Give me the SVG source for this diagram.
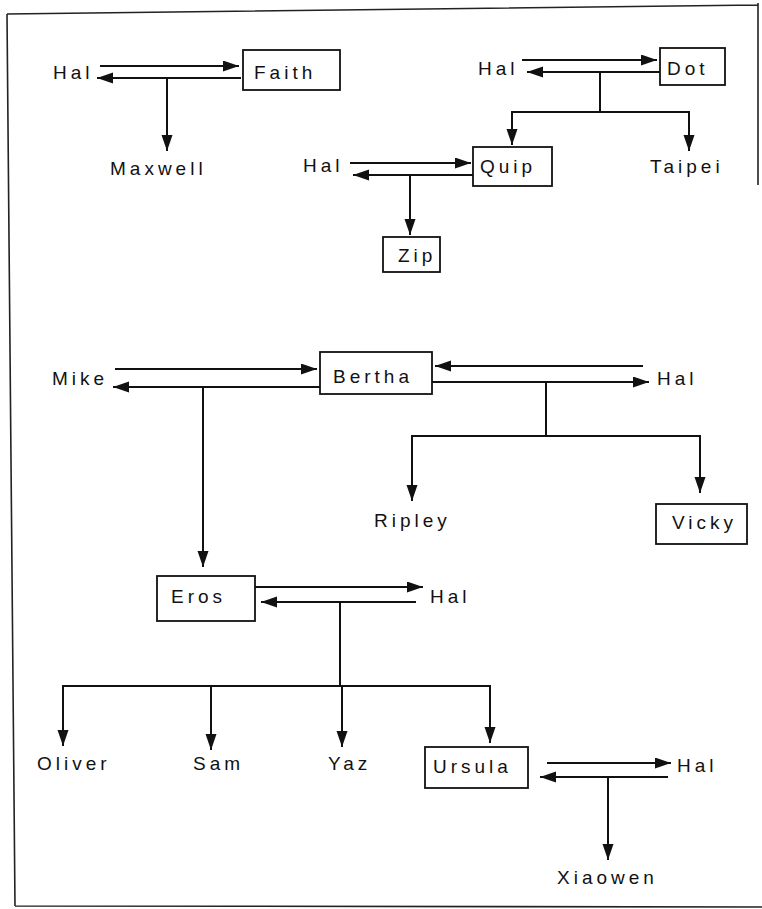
<svg xmlns="http://www.w3.org/2000/svg" width="762" height="909" viewBox="0 0 762 909">
<style>
text{font-family:"Liberation Sans",Arial,sans-serif;font-size:19px;letter-spacing:4px;fill:#111}
.box{fill:#fff;stroke:#111;stroke-width:1.8}
.ln{stroke:#111;stroke-width:2;fill:none}
.ar{stroke:#111;stroke-width:2;fill:none;marker-end:url(#ah)}
.frame{stroke:#222;stroke-width:1.6;fill:none}
</style>
<defs>
<marker id="ah" markerUnits="userSpaceOnUse" markerWidth="17" markerHeight="12" refX="16" refY="5.5" orient="auto">
<path d="M0,0 L16,5.5 L0,11 z" fill="#111"/>
</marker>
</defs>
<rect width="762" height="909" fill="#fff"/>
<g id="frame">
<path class="frame" d="M7,14 L758,5 M758,3 L758,185 M7,14 L15,906 M15,906 L762,907"/>
</g>
<g id="connectors">
<line class="ar" x1="100" y1="66" x2="239" y2="66"/>
<line class="ar" x1="241" y1="78" x2="97" y2="78"/>
<line class="ar" x1="167" y1="78" x2="167" y2="151"/>
<line class="ar" x1="522" y1="60" x2="657" y2="60"/>
<line class="ar" x1="660" y1="72" x2="527" y2="72"/>
<path class="ln" d="M600,72 V112 M512,112 H689"/>
<line class="ar" x1="512" y1="111" x2="512" y2="145"/>
<line class="ar" x1="689" y1="111" x2="689" y2="151"/>
<line class="ar" x1="350" y1="163" x2="471" y2="163"/>
<line class="ar" x1="473" y1="175" x2="353" y2="175"/>
<line class="ar" x1="410" y1="175" x2="410" y2="235"/>
<line class="ar" x1="115" y1="369" x2="317" y2="369"/>
<line class="ar" x1="320" y1="387" x2="113" y2="387"/>
<line class="ar" x1="643" y1="366" x2="435" y2="366"/>
<line class="ar" x1="432" y1="382" x2="649" y2="382"/>
<path class="ln" d="M546,382 V436 M412,436 H700"/>
<line class="ar" x1="412" y1="435" x2="412" y2="501"/>
<line class="ar" x1="700" y1="435" x2="700" y2="493"/>
<line class="ar" x1="203" y1="387" x2="203" y2="567"/>
<line class="ar" x1="255" y1="587" x2="423" y2="587"/>
<line class="ar" x1="416" y1="602" x2="261" y2="602"/>
<path class="ln" d="M340,602 V686 M63,686 H490"/>
<line class="ar" x1="63" y1="685" x2="63" y2="746"/>
<line class="ar" x1="211" y1="685" x2="211" y2="750"/>
<line class="ar" x1="342" y1="685" x2="342" y2="747"/>
<line class="ar" x1="490" y1="685" x2="490" y2="743"/>
<line class="ar" x1="547" y1="763" x2="671" y2="763"/>
<line class="ar" x1="668" y1="777" x2="540" y2="777"/>
<line class="ar" x1="608" y1="777" x2="608" y2="860"/>
</g>
<g id="hal1"><text x="53" y="79">Hal</text></g>
<g id="faith"><rect class="box" x="243" y="50" width="97" height="40"/><text x="254" y="79">Faith</text></g>
<g id="maxwell"><text x="110" y="175">Maxwell</text></g>
<g id="hal3"><text x="478" y="75">Hal</text></g>
<g id="dot"><rect class="box" x="660" y="48" width="65" height="37"/><text x="667" y="75">Dot</text></g>
<g id="taipei"><text x="650" y="173">Taipei</text></g>
<g id="hal2"><text x="303" y="172">Hal</text></g>
<g id="quip"><rect class="box" x="473" y="147" width="79" height="39"/><text x="480" y="173">Quip</text></g>
<g id="zip"><rect class="box" x="383" y="237" width="57" height="35"/><text x="398" y="262">Zip</text></g>
<g id="mike"><text x="52" y="385">Mike</text></g>
<g id="bertha"><rect class="box" x="320" y="352" width="112" height="42"/><text x="333" y="383">Bertha</text></g>
<g id="hal4"><text x="657" y="385">Hal</text></g>
<g id="ripley"><text x="374" y="527">Ripley</text></g>
<g id="vicky"><rect class="box" x="656" y="504" width="91" height="40"/><text x="672" y="529">Vicky</text></g>
<g id="eros"><rect class="box" x="157" y="576" width="98" height="45"/><text x="171" y="603">Eros</text></g>
<g id="hal5"><text x="430" y="603">Hal</text></g>
<g id="oliver"><text x="37" y="770">Oliver</text></g>
<g id="sam"><text x="193" y="770">Sam</text></g>
<g id="yaz"><text x="328" y="770">Yaz</text></g>
<g id="ursula"><rect class="box" x="425" y="747" width="103" height="41"/><text x="433" y="773">Ursula</text></g>
<g id="hal6"><text x="677" y="772">Hal</text></g>
<g id="xiaowen"><text x="557" y="884">Xiaowen</text></g>
</svg>
